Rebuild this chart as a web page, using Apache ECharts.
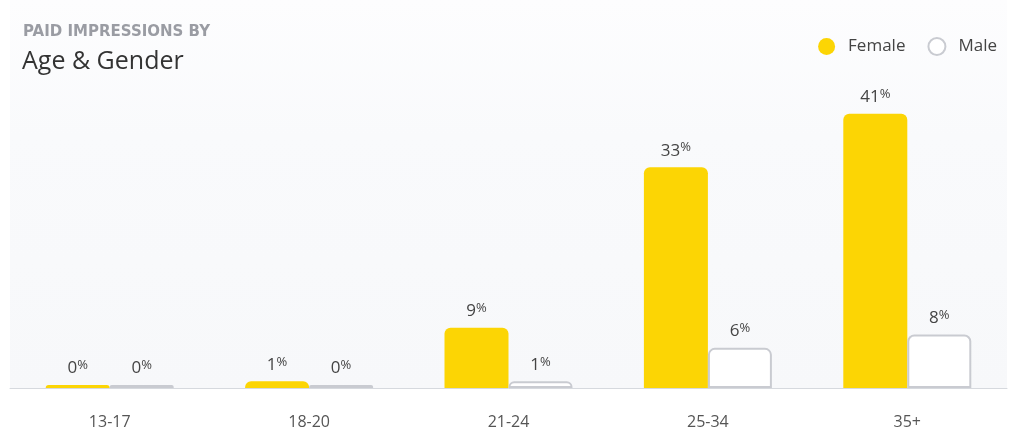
<!DOCTYPE html>
<html><head><meta charset="utf-8">
<script src="https://cdn.jsdelivr.net/npm/echarts@6/dist/echarts.min.js"></script>
<style>html,body{margin:0;padding:0;background:#fff;}#c{width:1013px;height:436px;}</style>
</head><body><div id="c"></div>
<script>
const categories = ['13-17', '18-20', '21-24', '25-34', '35+'];
const female = [0, 1, 9, 33, 41];
const male = [0, 0, 1, 6, 8];

const FONT = '"Open Sans", Lato, sans-serif';
const labelCfg = {
  show: true, position: 'top', distance: 7,
  formatter: p => '{n|' + p.value + '}{p|%}',
  rich: {
    n: { fontSize: 17, color: '#444', fontFamily: FONT },
    p: { fontSize: 13, color: '#444', fontFamily: FONT, padding: [0, 0, 6, 0] }
  }
};
const chart = echarts.init(document.getElementById('c'));
chart.setOption({
  backgroundColor: '#fff',
  animation: false,
  title: [
    { text: 'PAID IMPRESSIONS BY', left: 23, top: 25, padding: 0,
      textStyle: { fontSize: 15, fontWeight: 'bold', color: '#9a9ca3', fontFamily: '"DejaVu Sans"' } },
    { text: 'Age & Gender', left: 22, top: 49, padding: 0,
      textStyle: { fontSize: 25, fontWeight: 'normal', color: '#333', fontFamily: FONT } }
  ],
  legend: {
    right: 16, top: 37, icon: 'circle', itemWidth: 17, itemHeight: 17, itemGap: 22, padding: 0,
    textStyle: { fontSize: 17, color: '#444', fontFamily: FONT, padding: [0, 0, 0, 8] },
    data: ['Female', 'Male']
  },
  grid: { left: 10, right: 6, top: 0, bottom: 48, show: true, borderWidth: 0,
    backgroundColor: new echarts.graphic.LinearGradient(0, 0, 0, 1, [
      { offset: 0, color: '#fdfdfe' }, { offset: 0.35, color: '#f9fafc' }, { offset: 1, color: '#f7f8fa' }
    ]) },
  xAxis: {
    type: 'category', data: categories,
    axisLine: { lineStyle: { color: '#d6d9de' } },
    axisTick: { show: false },
    axisLabel: { fontSize: 16, color: '#555', margin: 26, fontFamily: FONT }
  },
  yAxis: { type: 'value', min: 0, max: 58, show: false, splitLine: { show: false } },
  series: [
    { name: 'Female', type: 'bar', data: female, barWidth: 64, barGap: '0%', barMinHeight: 3,
      itemStyle: { color: '#fcd504', borderRadius: [6, 6, 0, 0] }, label: labelCfg },
    { name: 'Male', type: 'bar', data: male, barWidth: 64, barMinHeight: 3,
      itemStyle: { color: '#fff', borderColor: '#c9cbd1', borderWidth: 2, borderRadius: [6, 6, 0, 0] }, label: labelCfg }
  ]
});
</script></body></html>
